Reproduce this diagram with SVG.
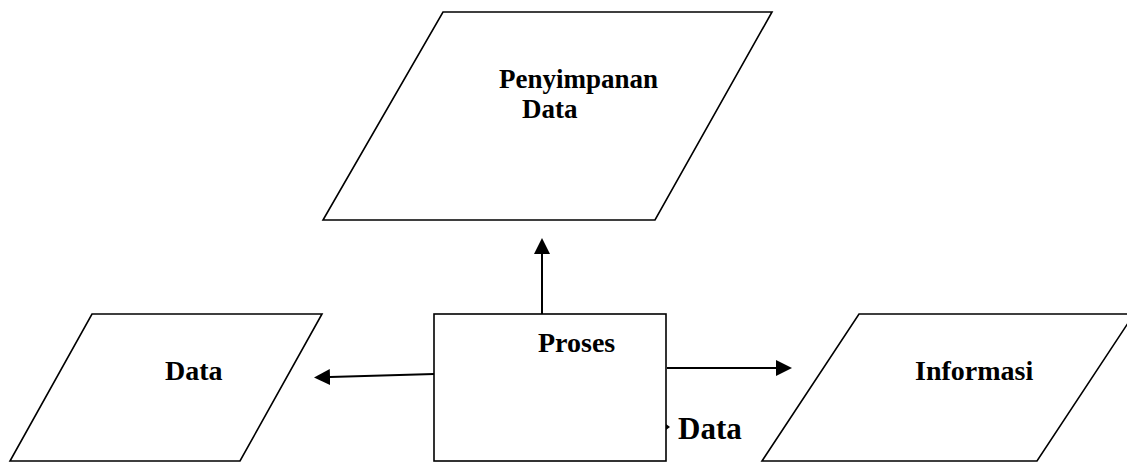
<svg xmlns="http://www.w3.org/2000/svg" width="1127" height="462" viewBox="0 0 1127 462">
  <style>
    .shape { fill: #ffffff; stroke: #000000; stroke-width: 1.6; }
    .conn { fill: none; stroke: #000000; stroke-width: 2; }
    .lbl { font-family: "Liberation Serif", "Times New Roman", serif; font-weight: bold; font-size: 28px; fill: #000000; }
    .lbl.sm { font-size: 27px; }
    .lbl.lg { font-size: 31px; }
  </style>
  <defs>
    <marker id="arrow" viewBox="0 0 16 16" refX="0" refY="8" markerWidth="16" markerHeight="16" markerUnits="userSpaceOnUse" orient="auto">
      <path d="M0,0 L16,8 L0,16 Z" fill="#000000"/>
    </marker>
  </defs>
  <rect x="0" y="0" width="1127" height="462" fill="#ffffff"/>

  <g id="penyimpanan-data">
    <polygon class="shape" points="443,12 772,12 655,220 323,220"/>
    <text class="lbl sm" x="499" y="88">Penyimpanan</text>
    <text class="lbl sm" x="522" y="118">Data</text>
  </g>

  <g id="data-input">
    <polygon class="shape" points="92,314 322,314 240,461 10,461"/>
    <text class="lbl" x="165" y="380">Data</text>
  </g>

  <g id="proses">
    <rect class="shape" x="434" y="314" width="232" height="147"/>
    <text class="lbl" x="538" y="352">Proses</text>
  </g>

  <g id="informasi">
    <polygon class="shape" points="859,314 1134,314 1037,461 762,461"/>
    <text class="lbl" x="915" y="380">Informasi</text>
  </g>

  <g id="connectors">
    <line class="conn" x1="542" y1="314" x2="542" y2="254" marker-end="url(#arrow)"/>
    <line class="conn" x1="434" y1="374" x2="330" y2="377" marker-end="url(#arrow)"/>
    <line class="conn" x1="667" y1="368" x2="776" y2="368" marker-end="url(#arrow)"/>
    <path d="M666,424 L670,427 L666,430 Z" fill="#000000"/>
  </g>

  <g id="data-label">
    <text class="lbl lg" x="678" y="439">Data</text>
  </g>
</svg>
